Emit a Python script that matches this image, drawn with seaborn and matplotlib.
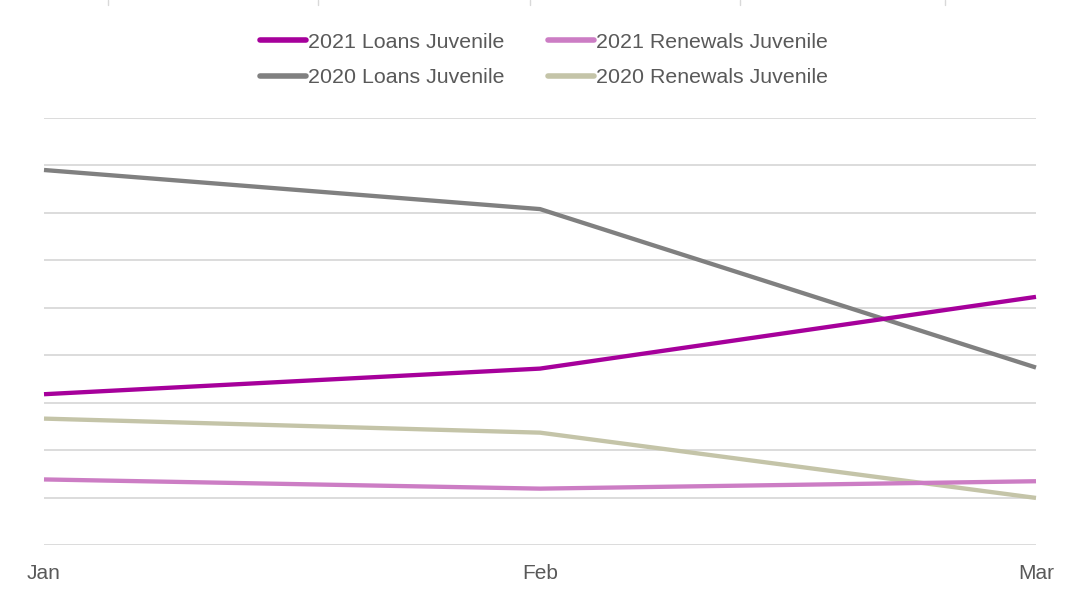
import pandas as pd
import matplotlib
matplotlib.use("Agg")
import matplotlib.pyplot as plt
import seaborn as sns
from matplotlib.lines import Line2D

# data (no y labels shown, gridline step taken as 500)
months = ['Jan', 'Feb', 'Mar']
loans_2021 = [1589, 1859, 2615]
renewals_2021 = [691, 594, 672]
loans_2020 = [3952, 3540, 1870]
renewals_2020 = [1332, 1184, 496]

series_names = ['2021 Loans Juvenile', '2021 Renewals Juvenile',
                '2020 Loans Juvenile', '2020 Renewals Juvenile']
series_colors = ['#A6009B', '#CC7DC4', '#808080', '#C4C4A8']

rows = []
for name, vals in zip(series_names, [loans_2021, renewals_2021, loans_2020, renewals_2020]):
    for m, v in zip(months, vals):
        rows.append({'month': m, 'value': v, 'series': name})
df = pd.DataFrame(rows)
df['pos'] = df['month'].map({m: i for i, m in enumerate(months)})

sns.set_theme(style='white')
plt.rcParams['font.family'] = ['Liberation Sans', 'DejaVu Sans']

fig = plt.figure(figsize=(10.78, 5.96), dpi=100)
ax = fig.add_axes([44 / 1078, 1 - 545 / 596, (1036 - 44) / 1078, (545 - 118) / 596])

# draw the older series first so the 2021 lines sit on top
order = ['2020 Loans Juvenile', '2020 Renewals Juvenile',
         '2021 Loans Juvenile', '2021 Renewals Juvenile']
palette = dict(zip(series_names, series_colors))
for name in order:
    sub = df[df['series'] == name]
    sns.lineplot(data=sub, x='pos', y='value', color=palette[name],
                 linewidth=3.1, ax=ax, legend=False, zorder=3)

ax.set_xlim(0, len(months) - 1)
ax.set_ylim(0, 4500)
ax.set_yticks(range(0, 4501, 500))
ax.set_yticklabels([])
ax.set_xticks(range(len(months)))
ax.set_xticklabels(months, fontsize=15, color='#595959')
ax.tick_params(axis='x', length=0, pad=14)
ax.tick_params(axis='y', length=0)
ax.set_xlabel('')
ax.set_ylabel('')
ax.grid(axis='y', color='#D9D9D9', linewidth=1.3, zorder=0)
ax.grid(axis='x', visible=False)
for s in ax.spines.values():
    s.set_visible(False)
for ln in ax.lines:
    ln.set_clip_on(False)
    ln.set_solid_capstyle('butt')

# legend: two columns, filled column by column
leg_order = ['2021 Loans Juvenile', '2020 Loans Juvenile',
             '2021 Renewals Juvenile', '2020 Renewals Juvenile']
handles = [Line2D([0], [0], color=palette[n], linewidth=4, solid_capstyle='round')
           for n in leg_order]
leg = fig.legend(handles, leg_order, loc='center', bbox_to_anchor=(544 / 1078, 1 - 60 / 596),
                 ncol=2, frameon=False, fontsize=15.4, handlelength=2.15, handletextpad=0.1,
                 columnspacing=2.0, labelspacing=0.78)
for t in leg.get_texts():
    t.set_color('#595959')

# small faint marks at the very top edge (cut-off elements above the chart)
for x in [108, 318, 530, 740, 945]:
    fig.add_artist(Line2D([x / 1078, x / 1078], [1, 1 - 5 / 596], color='#D9D9D9', linewidth=1))

fig.savefig('out.png', dpi=100)
